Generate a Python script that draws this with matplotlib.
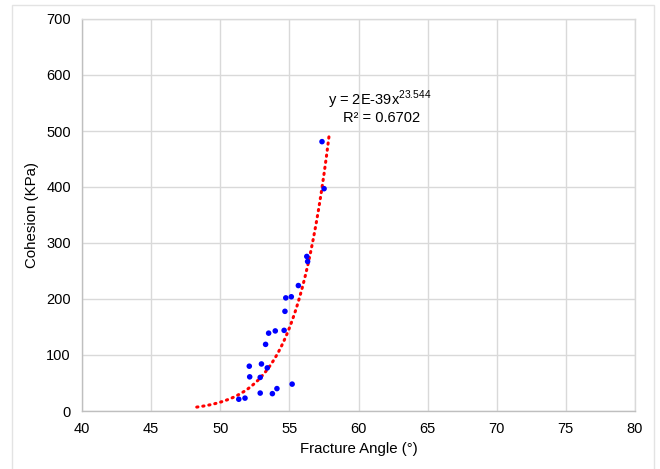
import numpy as np
import matplotlib
matplotlib.use("Agg")
import matplotlib.pyplot as plt
from matplotlib.patches import Rectangle

plt.rcParams['font.family'] = ['Liberation Sans', 'DejaVu Sans']
plt.rcParams['mathtext.fontset'] = 'custom'
plt.rcParams['mathtext.rm'] = 'Liberation Sans'

fracture_angle = [57.36, 57.51, 56.26, 56.32, 55.65, 54.74, 55.14, 54.68, 53.50, 53.98,
                  54.62, 53.28, 52.10, 52.98, 53.40, 52.13, 52.89, 52.89, 53.77, 54.10,
                  55.20, 51.34, 51.79]
cohesion = [481, 397, 276, 267, 224, 202, 204, 178, 139, 143,
            144, 119, 80, 84, 77, 61, 60, 32, 31, 40,
            48, 21, 23]

trend_coef = 1.57e-39
trend_exp = 23.544
trend_range = [48.3, 57.9]

x_ticks = [40, 45, 50, 55, 60, 65, 70, 75, 80]
y_ticks = [0, 100, 200, 300, 400, 500, 600, 700]

W, H = 660, 469
fig = plt.figure(figsize=(W / 100, H / 100), dpi=100)
fig.patch.set_facecolor('white')

# chart area border
fig.patches.append(Rectangle((12 / W, -0.05), (654 - 12) / W, (H - 5) / H + 0.05,
                             transform=fig.transFigure, fill=False,
                             edgecolor='#e3e3e3', linewidth=1.0))

ax = fig.add_axes([82 / W, 1 - 411 / H, (635 - 82) / W, (411 - 19) / H])
ax.set_xlim(40, 80)
ax.set_ylim(0, 700)
ax.set_xticks(x_ticks)
ax.set_yticks(y_ticks)
ax.grid(True, color='#d9d9d9', linewidth=1.0)
ax.set_axisbelow(True)
for s in ['top', 'right']:
    ax.spines[s].set_color('#d9d9d9')
for s in ['left', 'bottom']:
    ax.spines[s].set_color('#bfbfbf')
for s in ax.spines.values():
    s.set_linewidth(1.0)
ax.tick_params(length=0, labelsize=10.5, colors='#000000', pad=8)

xt = np.linspace(trend_range[0], trend_range[1], 200)
yt = trend_coef * xt ** trend_exp
ax.plot(xt, yt, color='#ff0000', linewidth=2.2, linestyle=(0, (0.4, 1.6)),
        dash_capstyle='round', zorder=2)

ax.scatter(fracture_angle, cohesion, s=16, color='#0000ff', edgecolors='none', zorder=3)

ax.text(57.8, 555, r"y = 2E-39x$^{\mathregular{23.544}}$", fontsize=10.5, ha='left', va='center')
ax.text(58.9, 523, "R² = 0.6702", fontsize=10.5, ha='left', va='center')

ax.set_xlabel("Fracture Angle (°)", fontsize=10.8, labelpad=4)
ax.set_ylabel("Cohesion (KPa)", fontsize=10.8, labelpad=5)

fig.savefig("out.png", dpi=100)
